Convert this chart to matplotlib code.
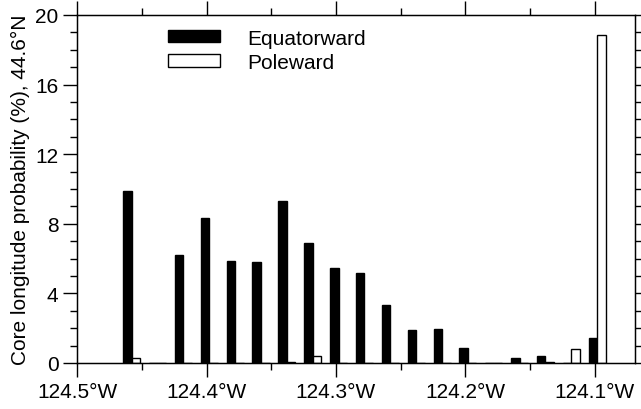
import matplotlib
matplotlib.use("Agg")
import matplotlib.pyplot as plt
from matplotlib.patches import Patch
from matplotlib.ticker import MultipleLocator, FuncFormatter
import numpy as np

plt.rcParams['font.family'] = ['Liberation Sans', 'DejaVu Sans']

# bin centers (longitude, degrees east)
lon = [-124.458 + 0.02 * k for k in range(19)]
equatorward = [9.9, 0.0, 6.2, 8.35, 5.84, 5.78, 9.33, 6.88, 5.48, 5.17,
               3.33, 1.88, 1.97, 0.84, 0.0, 0.29, 0.38, 0.0, 1.42]
poleward = [0.29, 0.0, 0.0, 0.0, 0.0, 0.0, 0.08, 0.40, 0.0, 0.0,
            0.0, 0.0, 0.0, 0.0, 0.0, 0.0, 0.08, 0.80, 18.85]
xticks = [-124.5, -124.4, -124.3, -124.2, -124.1]

fig = plt.figure(figsize=(6.41, 4.10), dpi=100)
ax = fig.add_axes([0.1207, 0.1122, 0.9906 - 0.1207, 0.961 - 0.1122])

w = 0.0066
x = np.array(lon)
ax.bar(x - w / 2, equatorward, width=w, color='black', edgecolor='black', linewidth=1.0)
ax.bar(x + w / 2, poleward, width=w, color='white', edgecolor='black', linewidth=1.0)

ax.set_xlim(-124.5, -124.0688)
ax.set_ylim(0, 20)

ax.xaxis.set_minor_locator(MultipleLocator(0.05))
ax.set_xticks(xticks)
ax.xaxis.set_major_formatter(FuncFormatter(lambda v, p: f"{abs(v):.1f}\u00b0W"))
ax.yaxis.set_major_locator(MultipleLocator(4))
ax.yaxis.set_minor_locator(MultipleLocator(1))

ax.tick_params(axis='both', which='both', direction='out', width=1.0, labelsize=15)
ax.tick_params(axis='x', which='both', top=True, bottom=True)
ax.tick_params(axis='both', which='major', length=10)
ax.tick_params(axis='both', which='minor', length=5)
ax.tick_params(axis='y', which='both', left=True, right=False)
for s in ax.spines.values():
    s.set_linewidth(1.0)

# right-side ticks every 1 unit, same length
ax2 = ax.twinx()
ax2.set_ylim(0, 20)
ax2.yaxis.set_major_locator(MultipleLocator(1))
ax2.tick_params(axis='y', which='major', direction='out', length=4.5, width=1.0,
                labelright=False)
ax2.tick_params(axis='y', which='minor', right=False)

ax.set_ylabel("Core longitude probability (%), 44.6\u00b0N", fontsize=15, labelpad=4)

handles = [Patch(facecolor='black', edgecolor='black', linewidth=1.0),
           Patch(facecolor='white', edgecolor='black', linewidth=1.0)]
ax.legend(handles, ['Equatorward', 'Poleward'], loc='upper left',
          bbox_to_anchor=(0.148, 0.985), frameon=False, fontsize=15,
          handlelength=2.5, handleheight=0.55, handletextpad=1.3,
          labelspacing=0.25, borderaxespad=0.0)

fig.savefig("out.png", dpi=100)
